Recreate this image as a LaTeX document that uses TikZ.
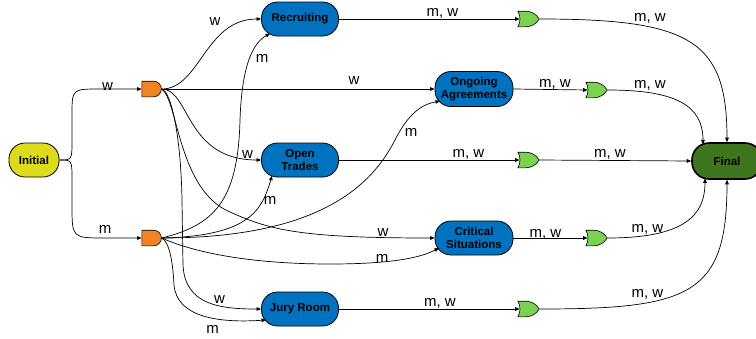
\documentclass[tikz,border=0pt]{standalone}
\usepackage{fontspec}
\setmainfont{Liberation Sans}
\usetikzlibrary{shapes.gates.logic.US,arrows.meta,calc}
\definecolor{cinit}{RGB}{220,220,28}
\definecolor{cblue}{RGB}{0,114,192}
\definecolor{cfin}{RGB}{62,118,30}
\definecolor{cand}{RGB}{240,132,36}
\definecolor{cor}{RGB}{122,210,80}
\begin{document}
\begin{tikzpicture}[x=1pt,y=-1pt,
  state/.style={rectangle, rounded corners=16pt, draw=black, line width=0.8pt, fill=cblue, text=black,
    font=\fontsize{11.5}{13.4}\selectfont\bfseries, align=center,
    minimum width=77pt, minimum height=34pt, inner sep=0pt},
  andg/.style={and gate US, draw=black, line width=0.6pt, fill=cand, minimum width=14pt, minimum height=13pt, inner sep=0pt},
  org/.style={or gate US, draw=black, line width=0.6pt, fill=cor, minimum width=15pt, minimum height=15pt, inner sep=0pt},
  lbl/.style={font=\fontsize{15}{15}\selectfont, anchor=base, inner sep=0pt, text=black},
  conn/.style={draw=black, line width=0.7pt, -{Triangle[length=4.5pt,width=3.6pt]}}]
\useasboundingbox (0,0) rectangle (756,338);

% nodes
\node[state, fill=cinit, minimum width=50pt] (init) at (34,160) {Initial};
\node[andg] (a1) at (151,89) {};
\node[andg] (a2) at (151,238) {};
\node[state] (rec) at (300,19) {Recruiting};
\node[state, minimum width=78pt, minimum height=35pt] (ong) at (474,89) {Ongoing\\Agreements};
\node[state] (opn) at (300,160) {Open\\Trades};
\node[state, minimum width=78pt] (crit) at (474,238) {Critical\\Situations};
\node[state] (jury) at (300,309) {Jury Room};
\node[org] (o1) at (527,19) {};
\node[org] (o2) at (595,90) {};
\node[org] (o3) at (527,160) {};
\node[org] (o4) at (595,238) {};
\node[org] (o5) at (527,309) {};
\node[state, fill=cfin, line width=1.6pt, rounded corners=17pt, minimum width=70pt, minimum height=36pt] (fin) at (727,161) {Final};

% Initial to AND gates
\path[conn] (init.east) .. controls (72,160) .. (72,140) -- (72,115) .. controls (72,89) .. (100,89) -- (a1.west);
\path[conn] (init.east) .. controls (72,160) .. (72,180) -- (72,205) .. controls (72,238) .. (105,238) -- (a2.west);

% from top AND gate (w)
\path[conn] (a1.east) .. controls (200,89) and (205,19) .. (rec.west);
\path[conn] (a1.east) -- (ong.west);
\path[conn] (a1.east) .. controls (190,89) and (185,160) .. (opn.west);
\path[conn] (a1.east) .. controls (178,100) and (178,190) .. (230,212) .. controls (270,230) and (300,238) .. (crit.west);
\path[conn] (a1.east) .. controls (172,92) and (181,140) .. (182,200) -- (183,265) .. controls (185,305) and (220,309) .. (jury.west);

% from bottom AND gate (m)
\path[conn] (a2.east) .. controls (215,225) and (238,200) .. (240,120) .. controls (242,60) and (255,42) .. ($(rec.center)+(-30,14.5)$);
\path[conn] (a2.east) .. controls (320,238) and (372,185) .. (395,140) .. controls (408,114) and (422,104) .. ($(ong.center)+(-34,12.2)$);
\path[conn] (a2.east) .. controls (250,236) and (262,210) .. ($(opn.center)+(-28,15.7)$);
\path[conn] (a2.east) .. controls (200,255) and (260,264) .. (330,264) .. controls (390,264) and (420,258) .. ($(crit.center)+(-35,10)$);
\path[conn] (a2.east) .. controls (170,242) and (173,265) .. (174,285) .. controls (177,318) and (220,323) .. ($(jury.center)+(-34,11)$);

% states to OR gates
\path[conn] (rec.east) -- (o1.west);
\path[conn] (ong.east) -- (o2.west);
\path[conn] (opn.east) -- (o3.west);
\path[conn] (crit.east) -- (o4.west);
\path[conn] (jury.east) -- (o5.west);

% OR gates to Final
\path[conn] (o1.east) .. controls (690,19) and (727,40) .. (fin.north);
\path[conn] (o2.east) .. controls (675,90) and (703,105) .. ($(fin.center)+(-24,-16.6)$);
\path[conn] (o3.east) -- (fin.west);
\path[conn] (o4.east) .. controls (685,238) and (705,215) .. ($(fin.center)+(-22,17.3)$);
\path[conn] (o5.east) .. controls (690,309) and (727,295) .. (fin.south);

% labels
\node[lbl] (l1) at (107.5,90) {w};
\node[lbl] (l2) at (105,233.3) {m};
\node[lbl] (l3) at (215,25) {w};
\node[lbl] (l4) at (262,62.3) {m};
\node[lbl] (l5) at (354,84) {w};
\node[lbl] (l6) at (247.5,158.3) {w};
\node[lbl] (l7) at (270,204) {m};
\node[lbl] (l8) at (383,236) {w};
\node[lbl] (l9) at (382,262) {m};
\node[lbl] (l10) at (219.5,303.3) {w};
\node[lbl] (l11) at (212.5,333.3) {m};
\node[lbl] (l12) at (411,136) {m};
\node[lbl] (l13) at (442.5,16.7) {m, w};
\node[lbl] (l14) at (650,21.7) {m, w};
\node[lbl] (l15) at (555,87.3) {m, w};
\node[lbl] (l16) at (650,88.3) {m, w};
\node[lbl] (l17) at (468.5,157.7) {m, w};
\node[lbl] (l18) at (610,157.7) {m, w};
\node[lbl] (l19) at (545.5,237.3) {m, w};
\node[lbl] (l20) at (647.5,232.7) {m, w};
\node[lbl] (l21) at (440,306.7) {m, w};
\node[lbl] (l22) at (647.5,297.7) {m, w};
\end{tikzpicture}
\end{document}
